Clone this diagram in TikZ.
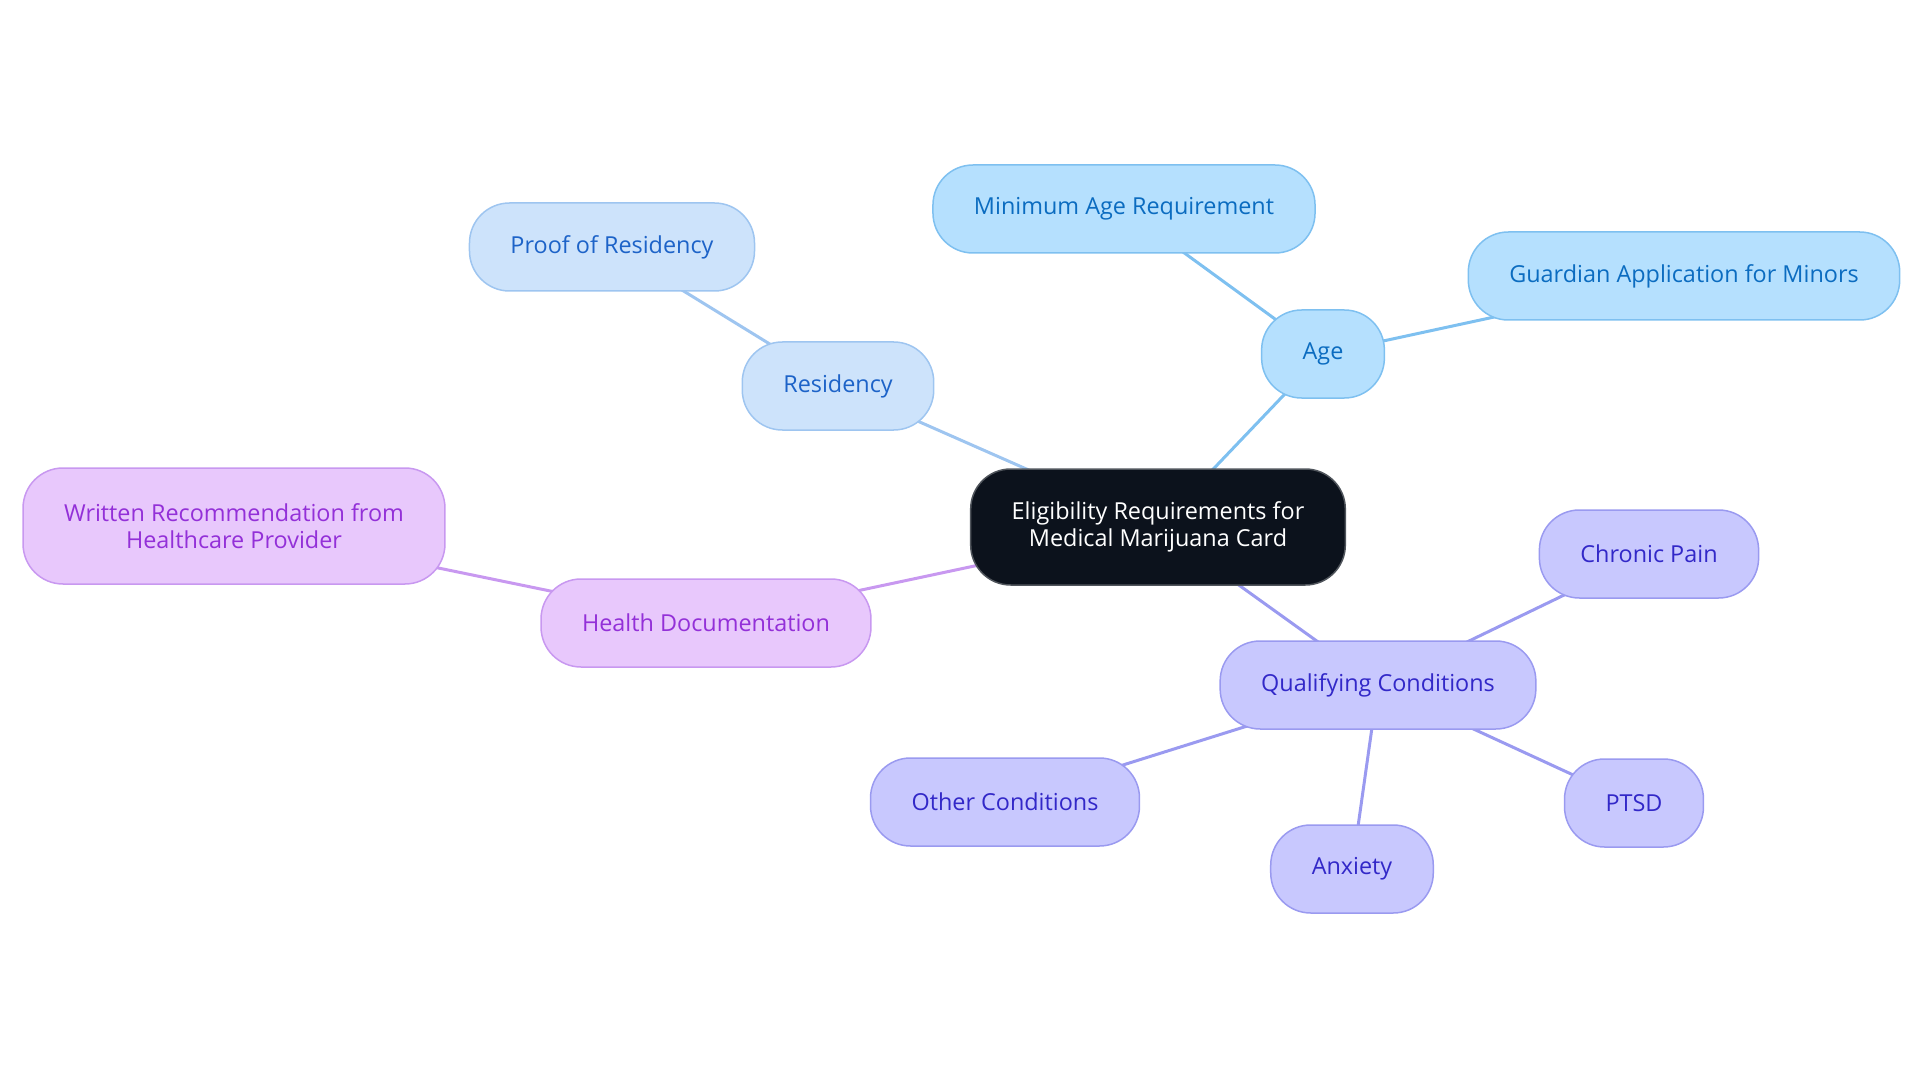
\documentclass[tikz,border=0pt]{standalone}
\usepackage{fontspec}
\setmainfont{Open Sans}
\usetikzlibrary{backgrounds}

\definecolor{rootfill}{HTML}{0C121C}
\definecolor{rootline}{HTML}{50555C}
\definecolor{resfill}{HTML}{CDE3FB}
\definecolor{resline}{HTML}{9EC5F0}
\definecolor{restext}{HTML}{1D63C8}
\definecolor{agefill}{HTML}{B5E0FE}
\definecolor{ageline}{HTML}{7EC0F0}
\definecolor{agetext}{HTML}{0B6CC0}
\definecolor{condfill}{HTML}{C8C8FE}
\definecolor{condline}{HTML}{9A9AF0}
\definecolor{condtext}{HTML}{3228C8}
\definecolor{healthfill}{HTML}{E8C8FC}
\definecolor{healthline}{HTML}{C898F0}
\definecolor{healthtext}{HTML}{9330D8}

\tikzset{
  topic/.style={rounded corners=40pt,line width=1.5pt,minimum height=88pt,
    inner xsep=41pt,align=center,font=\fontsize{23.4}{27}\selectfont},
  root/.style={topic,fill=rootfill,draw=rootline,text=white,minimum height=116pt},
  res/.style={topic,fill=resfill,draw=resline,text=restext},
  age/.style={topic,fill=agefill,draw=ageline,text=agetext},
  cond/.style={topic,fill=condfill,draw=condline,text=condtext},
  health/.style={topic,fill=healthfill,draw=healthline,text=healthtext},
  link/.style={line width=3pt}
}

\begin{document}
\begin{tikzpicture}[x=1pt,y=-1pt]
\useasboundingbox (0,0) rectangle (1920,1083);
\node[root] (card) at (1158,527) {Eligibility Requirements for\\Medical Marijuana Card};
\node[res] (residency) at (838,386) {Residency};
\node[res] (proof) at (612,247) {Proof of Residency};
\node[age] (age) at (1323,354) {Age};
\node[age] (minage) at (1124,209) {Minimum Age Requirement};
\node[age] (guardian) at (1684,276) {Guardian Application for Minors};
\node[health] (healthdoc) at (706,623) {Health Documentation};
\node[health,minimum height=116pt] (written) at (234,526) {Written Recommendation from\\Healthcare Provider};
\node[cond] (conditions) at (1378,685) {Qualifying Conditions};
\node[cond] (chronic) at (1649,554) {Chronic Pain};
\node[cond] (ptsd) at (1634,803) {PTSD};
\node[cond] (anxiety) at (1352,869) {Anxiety};
\node[cond] (other) at (1005,802) {Other Conditions};
\begin{scope}[on background layer]
\path[link,draw=resline] (card.center) edge (residency.center)
  (residency.center) edge (proof.center);
\path[link,draw=ageline] (card.center) edge (age.center)
  (age.center) edge (minage.center)
  (age.center) edge (guardian.center);
\path[link,draw=healthline] (card.center) edge (healthdoc.center)
  (healthdoc.center) edge (written.center);
\path[link,draw=condline] (card.center) edge (conditions.center)
  (conditions.center) edge (chronic.center)
  (conditions.center) edge (ptsd.center)
  (conditions.center) edge (anxiety.center)
  (conditions.center) edge (other.center);
\end{scope}
\end{tikzpicture}
\end{document}
